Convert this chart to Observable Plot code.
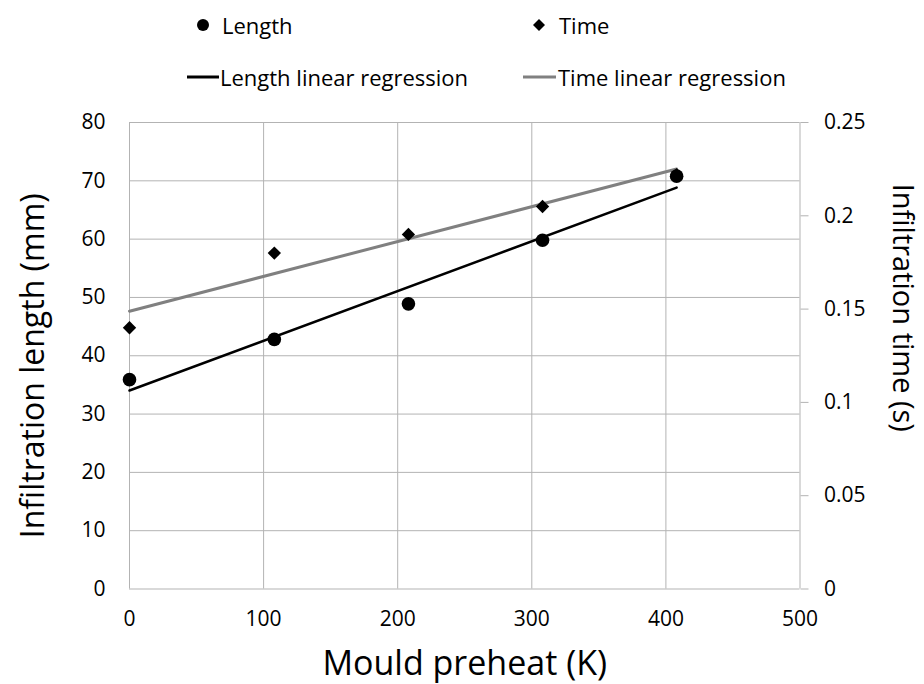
<!DOCTYPE html>
<html><head><meta charset="utf-8">
<script src="https://cdn.jsdelivr.net/npm/d3@7"></script>
<script src="https://cdn.jsdelivr.net/npm/@observablehq/plot@0.6"></script>
<style>
body{margin:0;background:#fff;font-family:"Open Sans",sans-serif;color:#000;}
#legend{position:relative;height:100px;width:924px;font-size:22px;}
.it{position:absolute;height:30px;line-height:30px;white-space:nowrap;}
.it svg{display:block;}
</style></head><body>
<div id="legend"></div>
<div id="chart"></div>
<script>
// Data
const preheat = [0, 108, 208, 308, 408];               // Mould preheat (K)
const lengthMm = [35.9, 42.8, 48.9, 59.8, 70.8];       // Infiltration length (mm)
const timeS = [0.14, 0.18, 0.19, 0.205, 0.222];        // Infiltration time (s)
const xTicks = [0, 100, 200, 300, 400, 500];
const lengthTicks = [0, 10, 20, 30, 40, 50, 60, 70, 80];
const timeTicks = [0, 0.05, 0.1, 0.15, 0.2, 0.25];
const timeTickLabels = ["0", "0.05", "0.1", "0.15", "0.2", "0.25"];
const legendLabels = ["Length", "Time", "Length linear regression", "Time linear regression"];
const titles = {x: "Mould preheat (K)", yLeft: "Infiltration length (mm)", yRight: "Infiltration time (s)"};

// right axis (time) mapped onto the left (length) scale
const k = 80 / 0.25;
const lengthData = preheat.map((x, i) => ({x, y: lengthMm[i]}));
const timeData = preheat.map((x, i) => ({x, y: timeS[i] * k}));
const timeTickPos = timeTicks.map(t => t * k);

const grid = "#b3b3b3";
const chart = Plot.plot({
  width: 924, height: 584,
  marginTop: 22, marginBottom: 95.5, marginLeft: 129, marginRight: 124.5,
  style: {fontFamily: "Open Sans", fontSize: "21px", color: "#000", background: "#fff"},
  x: {domain: [0, 500]},
  y: {domain: [0, 80]},
  marks: [
    Plot.gridX(xTicks, {stroke: grid, strokeOpacity: 1, strokeWidth: 1}),
    Plot.gridY(lengthTicks, {stroke: grid, strokeOpacity: 1, strokeWidth: 1}),
    Plot.axisX(xTicks, {tickSize: 0, tickPadding: 22, fontSize: 21, label: null}),
    Plot.axisY(lengthTicks, {anchor: "left", tickSize: 0, tickPadding: 24, fontSize: 21, label: null}),
    Plot.axisY(timeTickPos, {anchor: "right", tickSize: 8, tickPadding: 16, stroke: grid, fontSize: 21, label: null,
      tickFormat: d => timeTickLabels[timeTickPos.indexOf(d)]}),
    Plot.text([titles.yLeft], {frameAnchor: "left", textAnchor: "middle", lineAnchor: "middle", dx: -96, dy: 10, rotate: -90, fontSize: 32}),
    Plot.text([titles.yRight], {frameAnchor: "right", textAnchor: "middle", lineAnchor: "middle", dx: 102, dy: -48, rotate: 90, fontSize: 29}),
    Plot.text([titles.x], {frameAnchor: "bottom", textAnchor: "middle", lineAnchor: "middle", dy: 75.5, fontSize: 34}),
    Plot.linearRegressionY(timeData, {x: "x", y: "y", stroke: "#808080", strokeWidth: 3, ci: 0}),
    Plot.linearRegressionY(lengthData, {x: "x", y: "y", stroke: "#000", strokeWidth: 2.5, ci: 0}),
    Plot.dot(timeData, {x: "x", y: "y", symbol: "diamond2", r: 6, fill: "#000", stroke: "none"}),
    Plot.dot(lengthData, {x: "x", y: "y", r: 6.8, fill: "#000", stroke: "none"})
  ]
});
document.getElementById("chart").appendChild(chart);

// Legend (HTML, above the SVG)
const legend = document.getElementById("legend");
function add(html, left, cy) {
  const d = document.createElement("div");
  d.className = "it"; d.style.left = left + "px"; d.style.top = (cy - 15) + "px";
  d.innerHTML = html; legend.appendChild(d);
}
add('<svg width="14" height="30"><circle cx="7" cy="15" r="6" fill="#000"/></svg>', 196, 25);
add(legendLabels[0], 222, 25);
add('<svg width="14" height="30"><path d="M7 9L13 15L7 21L1 15Z" fill="#000"/></svg>', 532, 25);
add(legendLabels[1], 559, 25);
add('<svg width="32" height="30"><line x1="0" y1="15" x2="32" y2="15" stroke="#000" stroke-width="3"/></svg>', 187, 77);
add(legendLabels[2], 220, 77);
add('<svg width="33" height="30"><line x1="0" y1="15" x2="33" y2="15" stroke="#808080" stroke-width="3"/></svg>', 523, 77);
add(legendLabels[3], 558, 77);
</script>
</body></html>
